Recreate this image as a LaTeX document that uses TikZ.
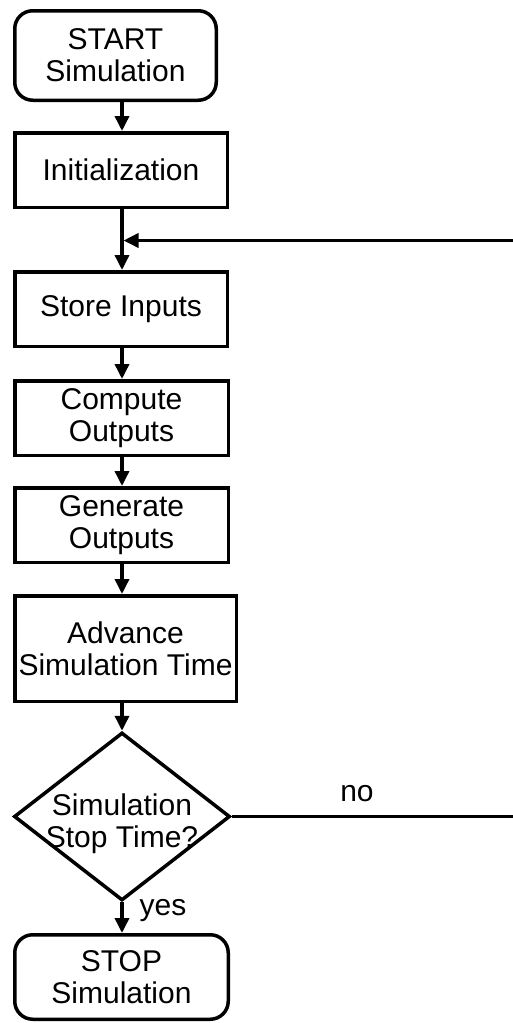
\documentclass[tikz,border=0pt]{standalone}
\usepackage{fontspec}
\setmainfont{Liberation Sans}
\usetikzlibrary{shapes.geometric,arrows.meta}
\begin{document}
\begin{tikzpicture}[x=1pt,y=-1pt,
  every node/.style={font=\fontsize{30}{32}\selectfont},
  proc/.style={draw,line width=3.5pt,rectangle,align=center,inner sep=0pt,minimum height=74.5pt},
  term/.style={proc,rounded corners=18pt},
  decision/.style={draw,line width=3.5pt,diamond,inner sep=0pt},
  conn/.style={line width=3.5pt,-{Triangle[length=15pt,width=14pt]}},
  plain/.style={line width=3.5pt},
  lbl/.style={inner sep=0pt,align=center}]
\useasboundingbox (0,0) rectangle (513,1023);
\node[term,minimum width=201.5pt,minimum height=89.5pt] (start) at (115.5,55.5) {START\\Simulation};
\node[proc,minimum width=212.5pt] (init) at (121,170) {Initialization};
\node[proc,minimum width=212.5pt] (store) at (121,309) {Store Inputs};
\node[proc,minimum width=213.5pt] (comp) at (121.5,418) {Compute\\Outputs};
\node[proc,minimum width=213.5pt] (gen) at (121.5,525) {Generate\\Outputs};
\node[proc,minimum width=221.5pt,minimum height=105.5pt] (adv) at (125.5,648.5) {Advance\\Simulation Time};
\node[decision,minimum width=216pt,minimum height=168pt] (dec) at (122,816.5) {};
\node[lbl] (dectxt) at (122,824) {Simulation\\Stop Time?};
\node[term,minimum width=213.5pt,minimum height=84.5pt] (stop) at (121.5,977) {STOP\\Simulation};
\node[lbl] (no) at (357,794) {no};
\node[lbl] (yes) at (163,911) {yes};
\coordinate (join) at (122,240.5);
\coordinate (fbend) at (513,240.5);
\draw[conn] (start.south -| join) -- (init.north -| join);
\draw[plain] (init.south -| join) -- (join);
\draw[conn] (join) -- (store.north -| join);
\draw[conn] (fbend) -- ([xshift=1.5pt]join);
\draw[conn] (store.south -| join) -- (comp.north -| join);
\draw[conn] (comp.south -| join) -- (gen.north -| join);
\draw[conn] (gen.south -| join) -- (adv.north -| join);
\draw[conn] (adv.south -| join) -- (dec.north);
\draw[conn] (dec.south) -- (stop.north -| join);
\draw[plain] (dec.east) -- (dec.east -| fbend);
\end{tikzpicture}
\end{document}
